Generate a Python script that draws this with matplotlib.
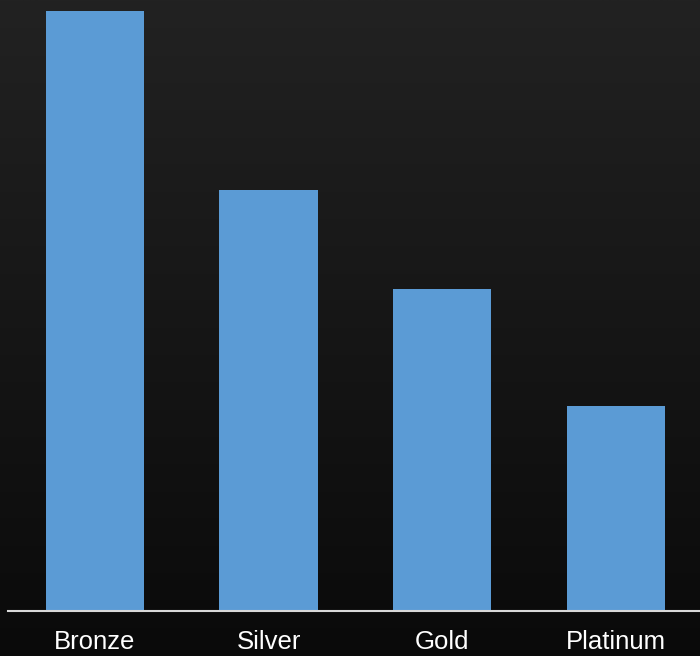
import numpy as np
import matplotlib
matplotlib.use("Agg")
import matplotlib.pyplot as plt

# tier names and their values
tiers = ["Bronze", "Silver", "Gold", "Platinum"]
values = [100, 70.2, 53.7, 34.2]

W, H = 700, 656
fig = plt.figure(figsize=(W / 100, H / 100), dpi=100)

# dark vertical gradient behind everything
bg = fig.add_axes([0, 0, 1, 1])
grad = np.linspace(0x22, 0x0a, 256) / 255.0
img = np.repeat(grad[:, None], 2, axis=1)
bg.imshow(np.dstack([img, img, img]), aspect="auto", extent=[0, 1, 0, 1])
bg.set_axis_off()

base_y = 611
ax = fig.add_axes([8 / W, (H - base_y) / H, 692 / W, base_y / H])
ax.patch.set_alpha(0)

x = np.arange(len(tiers))
ax.bar(x, values, width=0.565, color="#5b9bd5", zorder=2)

ax.set_xlim(-0.5, -0.5 + 692 / 173.7)
ax.set_ylim(0, 100 * base_y / 600)

for side in ["top", "right", "left"]:
    ax.spines[side].set_visible(False)
ax.spines["bottom"].set_color("#d9d9d9")
ax.spines["bottom"].set_linewidth(1.5)

ax.set_yticks([])
ax.set_xticks(x)
ax.set_xticklabels(tiers, fontsize=18.5, color="white", family=["Liberation Sans", "DejaVu Sans"])
ax.tick_params(axis="x", length=0, pad=14)

fig.savefig("out.png", dpi=100)
